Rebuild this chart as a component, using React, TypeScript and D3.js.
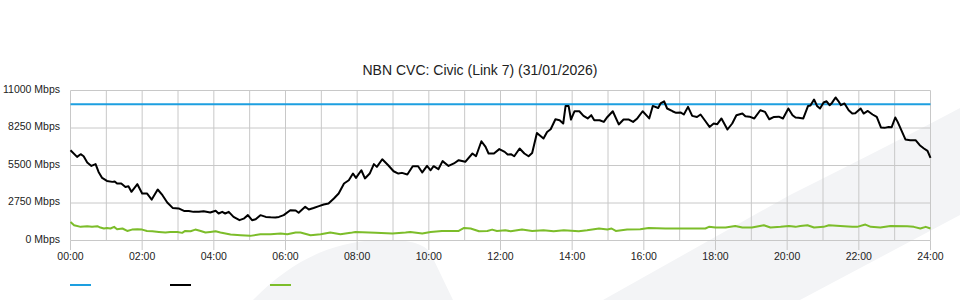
import React from "react";
import * as d3 from "d3";

const title = "NBN CVC: Civic (Link 7) (31/01/2026)";
const yTicks = [0, 2750, 5500, 8250, 11000];
const xTickHours = [0, 2, 4, 6, 8, 10, 12, 14, 16, 18, 20, 22, 24];
const gridHours = d3.range(0, 25);
const capacityMbps = 10000;

// [minutes since midnight, Mbps]
const trafficSeries: [number, number][] = [
  [0, 6620], [11, 6130], [17, 6330], [22, 6180], [28, 5720], [35, 5470], [42, 5600], [47, 5030],
  [53, 4590], [61, 4370], [70, 4300], [74, 4330], [78, 4180], [85, 4180], [92, 3930], [97, 3980],
  [102, 3570], [112, 4130], [120, 3450], [128, 3450], [136, 3000], [146, 3740], [154, 3320],
  [162, 2790], [171, 2390], [181, 2350], [190, 2170], [198, 2170], [206, 2100], [215, 2100],
  [223, 2150], [234, 2050], [243, 2180], [248, 1980], [254, 2100], [259, 1980], [265, 2100],
  [273, 1730], [283, 1490], [290, 1600], [297, 1860], [304, 1490], [310, 1560], [318, 1860],
  [327, 1730], [335, 1700], [343, 1680], [349, 1730], [357, 1860], [368, 2220], [377, 2200],
  [382, 2030], [393, 2470], [399, 2270], [407, 2380], [416, 2520], [424, 2640], [432, 2710],
  [441, 3080], [449, 3450], [458, 4180], [466, 4420], [473, 4910], [478, 4590], [487, 5150],
  [493, 4550], [501, 4910], [508, 5600], [513, 5400], [522, 5960], [532, 5520], [541, 5080],
  [549, 4910], [555, 4960], [564, 4840], [573, 5450], [582, 5450], [589, 4990], [597, 5470],
  [603, 5150], [608, 5450], [616, 5230], [623, 5820], [633, 5470], [642, 5650], [650, 5890],
  [661, 5770], [673, 6380], [679, 6180], [688, 7280], [695, 6860], [700, 6380], [709, 6380],
  [718, 6700], [727, 6500], [732, 6300], [738, 6320], [743, 6180], [752, 6750], [760, 6380],
  [767, 6180], [773, 6420], [781, 7890], [792, 7480], [798, 7960], [804, 8160], [812, 8890],
  [819, 8820], [825, 8580], [829, 9870], [834, 9870], [838, 8870], [844, 9480], [852, 9480],
  [859, 9140], [866, 8950], [872, 9190], [877, 8820], [886, 8820], [893, 8700], [899, 9060],
  [908, 9480], [918, 8510], [926, 8870], [935, 8870], [942, 8700], [949, 8950], [958, 9480],
  [966, 9100], [969, 8950], [975, 9870], [984, 9720], [988, 10050], [994, 10210], [999, 9680],
  [1008, 9480], [1014, 9360], [1022, 9380], [1027, 9240], [1034, 9800], [1041, 9140],
  [1049, 9060], [1055, 9240], [1062, 8820], [1070, 8330], [1077, 8580], [1083, 8530],
  [1090, 8950], [1100, 8140], [1108, 8580], [1115, 9190], [1125, 9310], [1130, 9110],
  [1137, 9080], [1145, 8950], [1155, 9550], [1163, 9430], [1170, 8890], [1178, 9060],
  [1186, 9080], [1193, 8950], [1202, 9680], [1209, 9190], [1214, 9020], [1219, 9000],
  [1227, 8950], [1235, 9870], [1239, 9900], [1245, 10340], [1250, 9870], [1255, 9680],
  [1261, 10120], [1266, 10210], [1271, 9920], [1275, 10090], [1281, 10490], [1286, 10210],
  [1290, 9920], [1296, 10050], [1303, 9550], [1309, 9310], [1314, 9330], [1323, 9680],
  [1328, 9310], [1335, 9500], [1343, 9240], [1350, 9060], [1357, 8290], [1363, 8260],
  [1370, 8330], [1375, 8310], [1381, 9020], [1385, 8700], [1398, 7410], [1406, 7360],
  [1415, 7360], [1422, 6990], [1429, 6750], [1435, 6570], [1440, 6060],
];

// [minutes since midnight, Mbps]
const uploadSeries: [number, number][] = [
  [0, 1360], [6, 1120], [17, 1000], [28, 1050], [36, 1000], [45, 1050], [50, 950], [56, 880],
  [61, 920], [67, 880], [73, 1000], [78, 830], [87, 880], [95, 700], [103, 800], [112, 830],
  [120, 800], [128, 700], [137, 680], [148, 630], [159, 590], [167, 630], [179, 630], [187, 560],
  [192, 700], [201, 680], [209, 800], [218, 700], [226, 590], [234, 630], [243, 680], [251, 590],
  [268, 440], [285, 390], [301, 340], [318, 460], [335, 460], [352, 510], [363, 460], [377, 590],
  [385, 590], [402, 390], [419, 460], [435, 590], [452, 460], [469, 560], [477, 630], [511, 560],
  [539, 510], [561, 590], [569, 630], [589, 510], [603, 630], [622, 700], [650, 700], [659, 920],
  [670, 880], [684, 680], [698, 700], [706, 800], [714, 700], [728, 750], [737, 680], [756, 800],
  [773, 700], [792, 750], [809, 680], [826, 750], [851, 680], [865, 750], [885, 880], [899, 800],
  [906, 880], [913, 700], [932, 800], [954, 830], [968, 920], [996, 880], [1030, 880],
  [1063, 880], [1069, 1000], [1080, 950], [1097, 950], [1113, 1070], [1125, 950], [1141, 950],
  [1161, 1120], [1172, 950], [1189, 1000], [1203, 1070], [1214, 1000], [1222, 1070],
  [1234, 1120], [1245, 950], [1261, 1000], [1270, 1120], [1289, 1070], [1309, 1000],
  [1317, 1000], [1331, 1170], [1340, 1000], [1356, 950], [1373, 1070], [1401, 1050],
  [1412, 1000], [1423, 880], [1432, 1000], [1440, 880],
];

const BLUE = "#1d9fe0";
const GREEN = "#7cbd2a";
const BLACK = "#000000";
const GRID = "#c8c8c8";
const FONT = "'Liberation Sans', Arial, sans-serif";

export default function App() {
  const width = 960;
  const height = 300;
  const x = d3.scaleLinear().domain([0, 24 * 60]).range([70.5, 930.5]);
  const y = d3.scaleLinear().domain([0, 11000]).range([240.5, 90.5]);

  const line = d3
    .line<[number, number]>()
    .x((d) => x(d[0]))
    .y((d) => y(d[1]))
    .curve(d3.curveLinear);

  const fmtHour = (h: number) => `${String(h).padStart(2, "0")}:00`;

  return (
    <div style={{ position: "absolute", left: 0, top: 0 }}>
      <svg width={width} height={height} style={{ display: "block" }}>
        <rect x={0} y={0} width={width} height={height} fill="#ffffff" />
        {/* watermark shapes */}
        <path d="M253,300 C290,262 330,242 378,240 Q418,238 430,252 L453,300 Z" fill="#f3f4f6" />
        <path d="M603,300 L790,195 Q900,140 960,108 L960,215 L800,300 Z" fill="#f3f4f6" />

        <text x={480} y={75} textAnchor="middle" fontFamily={FONT} fontSize={14} fill="#222">
          {title}
        </text>

        {/* grid */}
        {gridHours.map((h) => (
          <line key={"v" + h} x1={x(h * 60)} x2={x(h * 60)} y1={y(11000)} y2={y(0)} stroke={GRID} strokeWidth={1} />
        ))}
        {yTicks.map((v) => (
          <line key={"h" + v} x1={x(0)} x2={x(1440)} y1={y(v)} y2={y(v)} stroke={GRID} strokeWidth={1} />
        ))}

        {/* y labels */}
        {yTicks.map((v) => (
          <text key={"yl" + v} x={60} y={y(v) + 2} textAnchor="end" fontFamily={FONT} fontSize={10.5} fill="#222">
            {`${v} Mbps`}
          </text>
        ))}

        {/* x ticks and labels */}
        {xTickHours.map((h) => (
          <g key={"xt" + h}>
            <line x1={x(h * 60)} x2={x(h * 60)} y1={y(0)} y2={250} stroke={GRID} strokeWidth={1} />
            <text x={x(h * 60)} y={260} textAnchor="middle" fontFamily={FONT} fontSize={10.5} fill="#222">
              {fmtHour(h)}
            </text>
          </g>
        ))}

        {/* series */}
        <line x1={x(0)} x2={x(1440)} y1={y(capacityMbps)} y2={y(capacityMbps)} stroke={BLUE} strokeWidth={2} />
        <path d={line(trafficSeries) ?? ""} fill="none" stroke={BLACK} strokeWidth={2} strokeLinejoin="round" />
        <path d={line(uploadSeries) ?? ""} fill="none" stroke={GREEN} strokeWidth={2} strokeLinejoin="round" />

        {/* legend */}
        <line x1={70} x2={91} y1={285} y2={285} stroke={BLUE} strokeWidth={2} />
        <line x1={170} x2={191} y1={285} y2={285} stroke={BLACK} strokeWidth={2} />
        <line x1={270} x2={291} y1={285} y2={285} stroke={GREEN} strokeWidth={2} />
      </svg>
    </div>
  );
}
